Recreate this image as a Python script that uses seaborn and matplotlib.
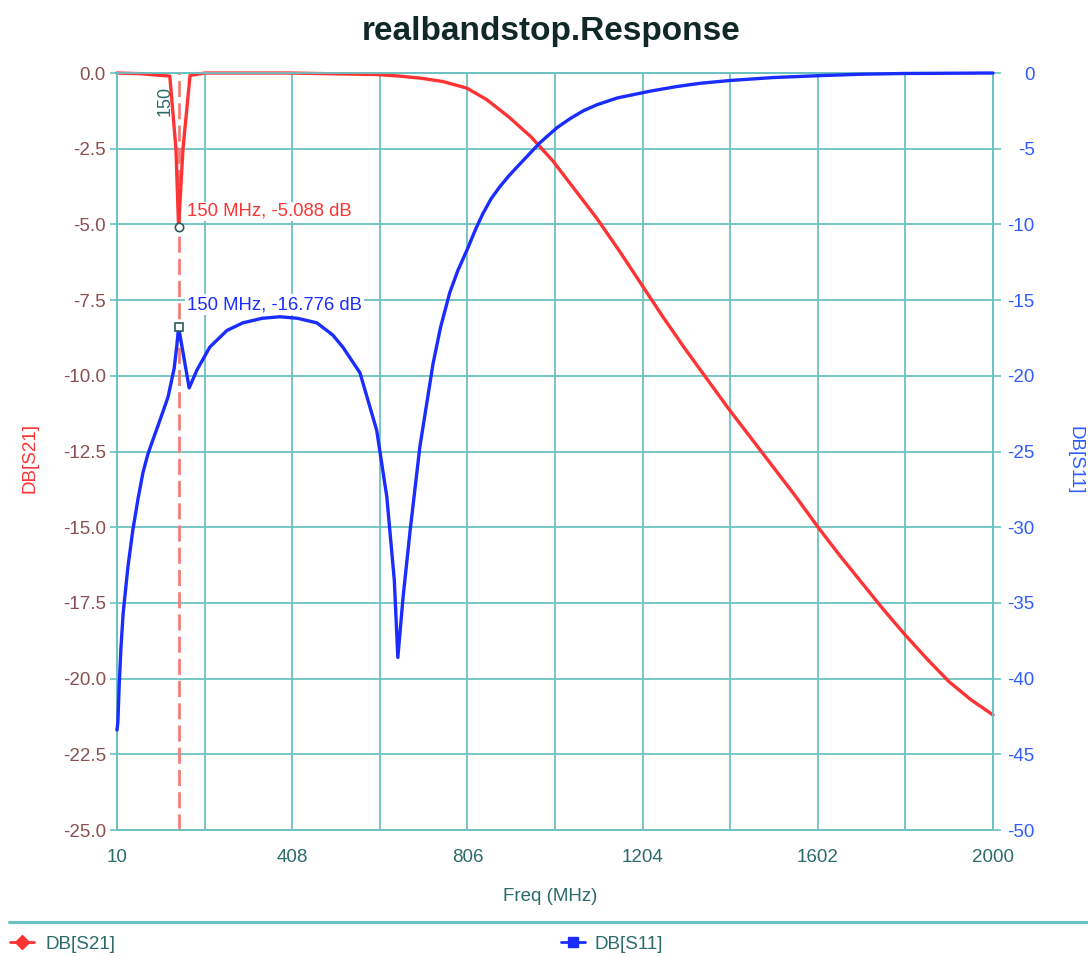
import matplotlib
matplotlib.use("Agg")
import matplotlib.pyplot as plt
from matplotlib.lines import Line2D
import seaborn as sns
import pandas as pd

# ---- data ----
s21_freq = [10, 60, 110, 130, 144, 150, 160, 176, 210, 400, 600, 650, 700, 750,
            805, 850, 900, 950, 1000, 1050, 1100, 1150, 1200, 1250, 1300, 1350,
            1400, 1450, 1500, 1550, 1600, 1650, 1700, 1750, 1800, 1850, 1900,
            1950, 2000]
s21_db = [0.0, -0.02, -0.08, -0.1, -2.5, -5.088, -2.5, -0.08, 0.0, 0.0, -0.05,
          -0.1, -0.17, -0.28, -0.5, -0.88, -1.45, -2.1, -2.9, -3.85, -4.8, -5.85,
          -6.95, -8.05, -9.1, -10.1, -11.1, -12.05, -13.0, -13.95, -14.95, -15.9,
          -16.8, -17.7, -18.55, -19.35, -20.1, -20.7, -21.2]

s11_freq = [10, 12, 15, 19, 24, 35, 46, 58, 69, 80, 92, 108, 126, 140, 146, 150,
            174, 192, 221, 260, 296, 340, 380, 420, 464, 500, 523, 562, 600, 623,
            640, 648, 660, 676, 698, 728, 745, 766, 785, 805, 825, 841, 860, 880,
            900, 919, 945, 971, 1010, 1040, 1069, 1100, 1146, 1221, 1280, 1334,
            1400, 1500, 1600, 1700, 1800, 2000]
s11_db = [-43.4, -42.9, -40.5, -38.0, -35.7, -32.6, -30.2, -28.1, -26.4, -25.2,
          -24.2, -22.9, -21.4, -19.5, -18.0, -16.776, -20.8, -19.6, -18.1, -17.0,
          -16.5, -16.2, -16.1, -16.2, -16.5, -17.3, -18.1, -19.8, -23.6, -28.0,
          -33.5, -38.6, -34.6, -30.2, -24.7, -19.2, -16.8, -14.5, -13.0, -11.7,
          -10.3, -9.3, -8.3, -7.5, -6.8, -6.2, -5.4, -4.6, -3.6, -3.0, -2.5,
          -2.1, -1.65, -1.2, -0.9, -0.68, -0.5, -0.3, -0.18, -0.08, -0.03, 0.0]

x_major = [10, 408, 806, 1204, 1602, 2000]
x_minor = [209, 607, 1005, 1403, 1801]
y_left = [0.0, -2.5, -5.0, -7.5, -10.0, -12.5, -15.0, -17.5, -20.0, -22.5, -25.0]
y_right = [0, -5, -10, -15, -20, -25, -30, -35, -40, -45, -50]

marker_freq = 150
marker_s21 = -5.088
marker_s11 = -16.776

# ---- style ----
sns.set_style("white")
plt.rcParams["font.family"] = ["Liberation Sans", "DejaVu Sans"]

RED = "#ff3333"
BLUE = "#1a2cff"
GRID = "#6cc2c2"
TEAL_TXT = "#2b6b6b"
LEFT_TXT = "#8a5050"
RIGHT_TXT = "#2f5cff"

fig = plt.figure(figsize=(10.88, 9.57), dpi=100)
ax = fig.add_axes([0.1075, 0.1327, 0.8052, 0.791])

df21 = pd.DataFrame({"freq": s21_freq, "db": s21_db})
df11 = pd.DataFrame({"freq": s11_freq, "db": s11_db})

sns.lineplot(data=df21, x="freq", y="db", ax=ax, color=RED, lw=2.4,
             sort=False, legend=False, zorder=3)
ax.lines[-1].set_clip_on(False)

ax.set_xlim(10, 2000)
ax.set_ylim(-25, 0)
ax.set_xticks(x_major)
ax.set_xticklabels([str(v) for v in x_major])
ax.set_xticks(x_minor, minor=True)
ax.set_yticks(y_left)
ax.set_yticklabels([f"{v:.1f}" for v in y_left])
ax.grid(which="both", color=GRID, lw=1.3)
ax.set_axisbelow(True)
ax.tick_params(axis="x", which="major", length=6, width=1.2, color=GRID,
               pad=8, labelsize=13.5, labelcolor=TEAL_TXT)
ax.tick_params(axis="x", which="minor", length=0)
ax.tick_params(axis="y", length=5, width=1.2, color=GRID, pad=3,
               labelsize=13.5, labelcolor=LEFT_TXT)
ax.set_xlabel("")
ax.set_ylabel("")
for sp in ax.spines.values():
    sp.set_color(GRID)
    sp.set_linewidth(1.3)

# marker line at 150 MHz
ax.axvline(marker_freq, color="#f08078", lw=2.0, ls=(0, (5.8, 2.2)), zorder=2)
ax.annotate("150", xy=(marker_freq, 0), xytext=(-10, -20),
            textcoords="offset points", rotation=90, ha="center", va="center",
            fontsize=13, color=TEAL_TXT)
ax.plot([marker_freq], [marker_s21], marker="o", ms=6, mfc="white",
        mec="#2a5a5a", mew=1.2, ls="none", zorder=5)
ax.annotate("150 MHz, -5.088 dB", xy=(marker_freq, marker_s21), xytext=(6, 11.5),
            textcoords="offset points", ha="left", va="center", fontsize=13.3,
            color=RED, bbox=dict(boxstyle="square,pad=0.05", fc="white", ec="none"),
            zorder=6)

ax2 = ax.twinx()
sns.lineplot(data=df11, x="freq", y="db", ax=ax2, color=BLUE, lw=2.4,
             sort=False, legend=False, zorder=3)
ax2.lines[-1].set_clip_on(False)
ax2.set_ylim(-50, 0)
ax2.set_yticks(y_right)
ax2.set_yticklabels([str(v) for v in y_right])
ax2.set_ylabel("")
ax2.grid(False)
ax2.tick_params(axis="y", length=6, width=1.2, color=GRID, pad=24,
                labelsize=13.5, labelcolor=RIGHT_TXT)
for lab in ax2.get_yticklabels():
    lab.set_horizontalalignment("right")
for sp in ax2.spines.values():
    sp.set_color(GRID)
    sp.set_linewidth(1.3)
ax2.plot([marker_freq], [marker_s11], marker="s", ms=6, mfc="white",
         mec="#2a5a5a", mew=1.2, ls="none", zorder=5)
ax2.annotate("150 MHz, -16.776 dB", xy=(marker_freq, marker_s11), xytext=(6, 16),
             textcoords="offset points", ha="left", va="center", fontsize=13.3,
             color=BLUE, bbox=dict(boxstyle="square,pad=0.1", fc="white", ec="none"),
             zorder=6)

# titles / labels
fig.text(0.507, 0.9666, "realbandstop.Response", ha="center", va="center",
         fontsize=24, fontweight="bold", color="#102828")
fig.text(0.506, 0.0627, "Freq (MHz)", ha="center", va="center",
         fontsize=13.5, color=TEAL_TXT)
fig.text(30 / 1088, 1 - 458 / 957, "DB[S21]", rotation=90, ha="center",
         va="center", fontsize=13.5, color=RED)
fig.text(1075 / 1088, 1 - 460 / 957, "DB[S11]", rotation=-90, ha="center",
         va="center", fontsize=13.5, color=RIGHT_TXT)

# separator and legend
fig.add_artist(Line2D([0.008, 1.0], [1 - 922 / 957, 1 - 922 / 957],
                      transform=fig.transFigure, color=GRID, lw=2.2))
h21 = Line2D([], [], color=RED, lw=2, marker="D", ms=7)
h11 = Line2D([], [], color=BLUE, lw=2, marker="s", ms=7)
leg1 = fig.legend(handles=[h21], labels=["DB[S21]"], loc="center left",
                  bbox_to_anchor=(0.004, 1 - 944 / 957), frameon=False,
                  fontsize=13.5, handlelength=1.3, handletextpad=0.6,
                  borderaxespad=0, borderpad=0.3)
for t in leg1.get_texts():
    t.set_color(TEAL_TXT)
leg2 = fig.legend(handles=[h11], labels=["DB[S11]"], loc="center left",
                  bbox_to_anchor=(555 / 1088, 1 - 944 / 957), frameon=False,
                  fontsize=13.5, handlelength=1.3, handletextpad=0.5,
                  borderaxespad=0, borderpad=0.3)
for t in leg2.get_texts():
    t.set_color(TEAL_TXT)

fig.savefig("out.png", dpi=100, facecolor="white")
